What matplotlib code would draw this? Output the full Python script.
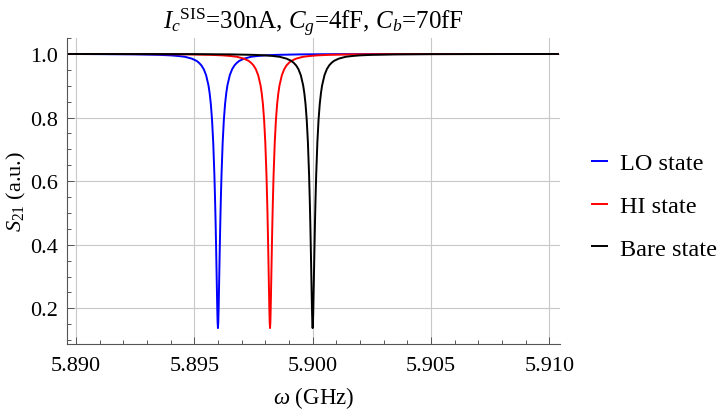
import numpy as np
import matplotlib
matplotlib.use("Agg")
import matplotlib.pyplot as plt
from matplotlib.ticker import MultipleLocator

plt.rcParams['font.family'] = ['Liberation Serif', 'DejaVu Serif']
plt.rcParams['mathtext.fontset'] = 'custom'
plt.rcParams['mathtext.rm'] = 'Liberation Serif'
plt.rcParams['mathtext.it'] = 'Liberation Serif:italic'

# resonance centres (GHz)
states = ['LO state', 'HI state', 'Bare state']
centers = [5.8960, 5.8982, 5.9000]
colors = ['#0000ff', '#ff0000', '#000000']

# dip profile: offset from centre (MHz) and S21 value
dip_offset = [-5.0, -3.5, -2.5, -2.0, -1.7, -1.4, -1.1, -0.9, -0.8, -0.7, -0.6, -0.5,
              -0.4, -0.35, -0.3, -0.25, -0.2, -0.15, -0.12, -0.1, -0.08, -0.06, -0.045,
              -0.03, -0.015, 0.0,
              0.015, 0.03, 0.045, 0.06, 0.08, 0.1, 0.12, 0.15, 0.2, 0.25, 0.3, 0.35,
              0.4, 0.5, 0.6, 0.7, 0.8, 0.9, 1.1, 1.4, 1.7, 2.0, 2.5, 3.5, 5.0]
dip_s21 = [0.9993, 0.9985, 0.997, 0.9954, 0.9936, 0.991, 0.985, 0.978, 0.972, 0.964, 0.952, 0.933,
           0.901, 0.876, 0.842, 0.793, 0.722, 0.619, 0.537, 0.473, 0.400, 0.322, 0.262,
           0.204, 0.157, 0.138,
           0.157, 0.204, 0.262, 0.322, 0.400, 0.473, 0.537, 0.619, 0.722, 0.793, 0.842, 0.876,
           0.901, 0.933, 0.952, 0.964, 0.972, 0.978, 0.985, 0.991, 0.9936, 0.9954, 0.997, 0.9985, 0.9993]

# flat baseline at the plot edges
edge_freq = [5.8896, 5.9104]
edge_s21 = [0.9998, 0.9998]

fig = plt.figure(figsize=(7.24, 4.14), dpi=100)
ax = fig.add_axes([0.0921, 0.1667, 0.6814, 0.7391])

for name, c, col in zip(states, centers, colors):
    f = [edge_freq[0]] + [c + d / 1000 for d in dip_offset] + [edge_freq[1]]
    s = [edge_s21[0]] + dip_s21 + [edge_s21[1]]
    ax.plot(f, s, color=col, lw=1.4, label=name, solid_capstyle='butt')

ax.set_xlim(5.88961, 5.91045)
ax.set_ylim(0.088, 1.05)

ax.xaxis.set_major_locator(MultipleLocator(0.005))
ax.xaxis.set_minor_locator(MultipleLocator(0.001))
ax.yaxis.set_major_locator(MultipleLocator(0.2))
ax.yaxis.set_minor_locator(MultipleLocator(0.05))
ax.xaxis.set_major_formatter(plt.FormatStrFormatter('%.3f'))
ax.yaxis.set_major_formatter(plt.FormatStrFormatter('%.1f'))

ax.tick_params(which='both', direction='in', colors='#555555', labelcolor='black',
               labelsize=16, width=0.7)
ax.tick_params(which='major', length=5, pad=6)
ax.tick_params(axis='x', which='major', pad=9)
ax.tick_params(which='minor', length=3)
ax.tick_params(top=False, right=False)

for side in ['top', 'right']:
    ax.spines[side].set_visible(False)
for side in ['left', 'bottom']:
    ax.spines[side].set_color('#555555')
    ax.spines[side].set_linewidth(0.8)

ax.grid(True, which='major', color='#c8c8c8', lw=0.8)
ax.set_axisbelow(True)

ax.set_title(r'$I_c{}^{\mathrm{SIS}}$=30nA, $C_g$=4fF, $C_b$=70fF', fontsize=18, pad=4)
ax.set_xlabel(r'$\omega$ (GHz)', fontsize=16.5, labelpad=6)
ax.set_ylabel(r'$S_{21}$ (a.u.)', fontsize=16, labelpad=2)

fig.legend(loc='center left', bbox_to_anchor=(0.816, 0.5), frameon=False,
           fontsize=17.5, handlelength=0.7, handletextpad=0.5, labelspacing=0.85,
           borderpad=0, borderaxespad=0)

fig.savefig('out.png', dpi=100)
